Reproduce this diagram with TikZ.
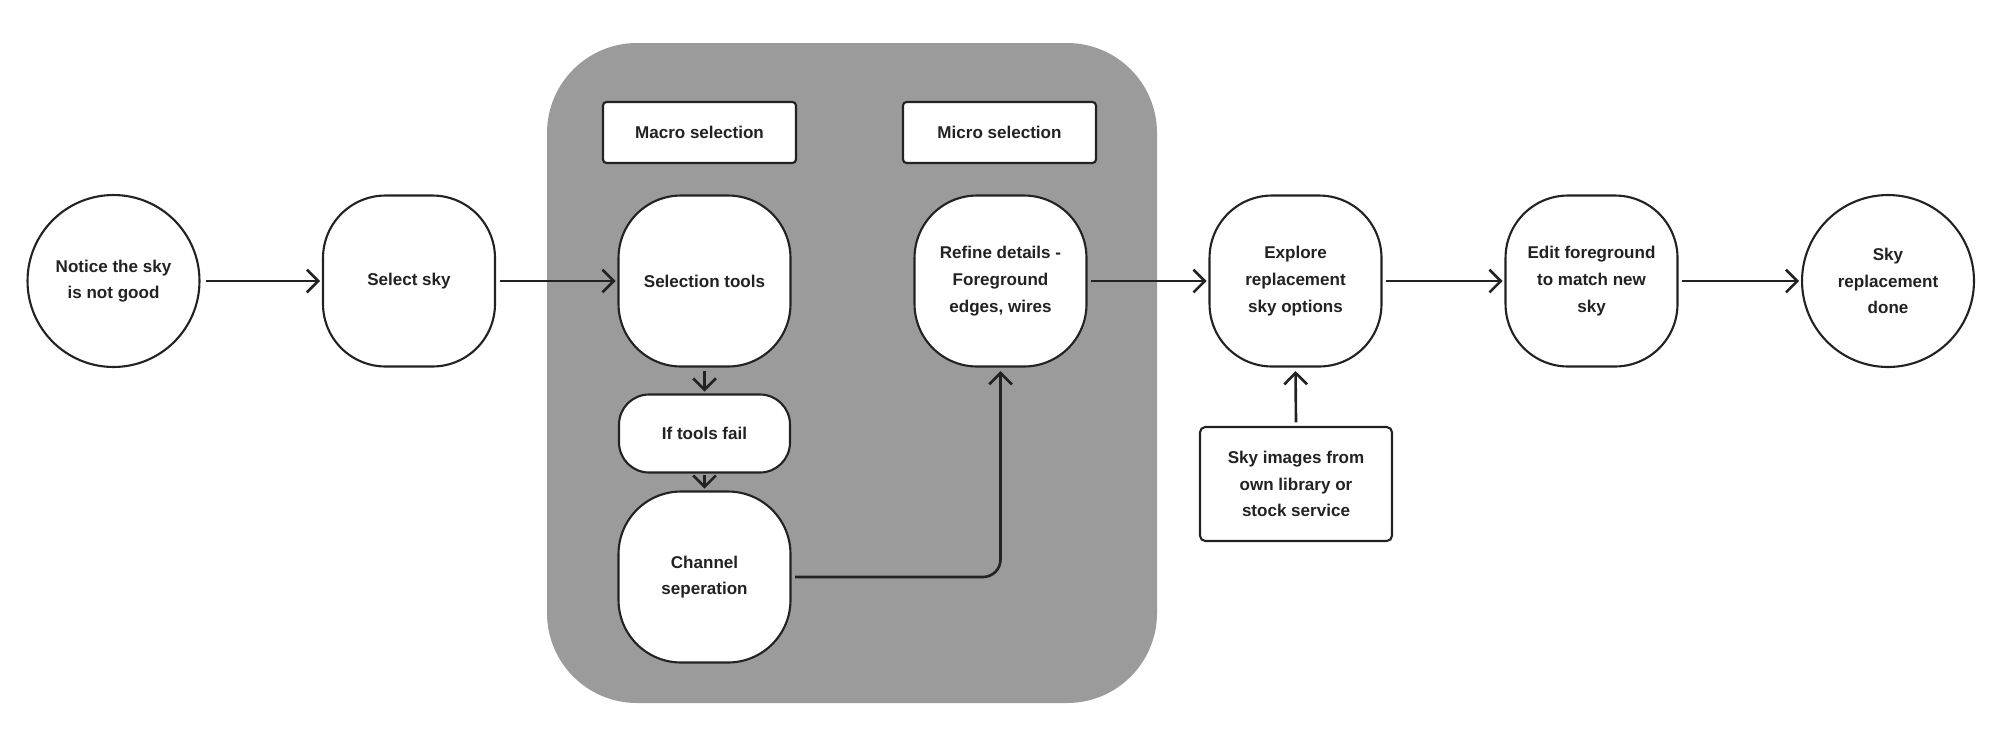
\documentclass[tikz,border=0pt]{standalone}
\usepackage{fontspec}
\setmainfont{Liberation Sans}
\usetikzlibrary{arrows.meta}
\definecolor{grp}{RGB}{155,155,155}
\definecolor{ink}{RGB}{34,34,34}
\tikzset{
  base/.style={draw=ink, line width=1.2pt, fill=white, align=center, inner sep=0pt,
    font=\bfseries\fontsize{9.7}{15.2}\selectfont, text=ink},
  roundsq/.style={base, minimum width=3.44cm, minimum height=3.42cm, rounded corners=1.25cm},
  circ/.style={base, circle, minimum size=3.44cm},
  label box/.style={base, minimum width=3.86cm, minimum height=1.22cm, rounded corners=2pt},
  pill/.style={base, minimum width=3.42cm, minimum height=1.56cm, rounded corners=0.6cm},
  arr/.style={draw=ink, line width=1.5pt, -{Straight Barb[length=6.5pt, width=13pt, line width=1.5pt]}}
}
\begin{document}
\begin{tikzpicture}[x=0.02cm, y=-0.02cm]
\useasboundingbox (0,0) rectangle (2000,751);
\fill[grp, rounded corners=1.8cm] (547,43) rectangle (1157,703);
\node[circ] (notice) at (113.5,281) {Notice the sky\\is not good};
\node[roundsq] (select) at (409,281) {Select sky};
\node[label box] (macro) at (699.5,132.5) {Macro selection};
\node[label box] (micro) at (999.5,132.5) {Micro selection};
\node[roundsq] (tools) at (704.5,281) {Selection tools};
\node[pill] (fail) at (704.5,433.5) {If tools fail};
\node[roundsq] (chan) at (704.5,577) {Channel\\seperation};
\node[roundsq] (refine) at (1000.5,281) {Refine details -\\Foreground\\edges, wires};
\node[roundsq] (explore) at (1295.5,281) {Explore\\replacement\\sky options};
\node[roundsq] (edit) at (1591.5,281) {Edit foreground\\to match new\\sky};
\node[circ] (done) at (1888,281) {Sky\\replacement\\done};
\node[base, minimum width=3.84cm, minimum height=2.28cm, rounded corners=3pt] (sky) at (1296,484) {Sky images from\\own library or\\stock service};
\draw[arr] ([xshift=3pt]notice.east) -- ([xshift=-1pt]select.west);
\draw[arr] ([xshift=2pt]select.east) -- ([xshift=-1pt]tools.west);
\draw[arr] ([yshift=-2pt]tools.south) -- ([yshift=1pt]fail.north);
\draw[arr] ([yshift=-1pt]fail.south) -- ([yshift=1pt]chan.north);
\draw[arr, rounded corners=0.35cm] ([xshift=2pt]chan.east) -| ([yshift=-2pt]refine.south);
\draw[arr] ([xshift=2pt]refine.east) -- ([xshift=-1pt]explore.west);
\draw[arr] ([xshift=2pt]explore.east) -- ([xshift=-1pt]edit.west);
\draw[arr] ([xshift=2pt]edit.east) -- ([xshift=-1pt]done.west);
\draw[arr] ([yshift=2pt]sky.north) -- ([yshift=-2pt]explore.south);
\end{tikzpicture}
\end{document}
